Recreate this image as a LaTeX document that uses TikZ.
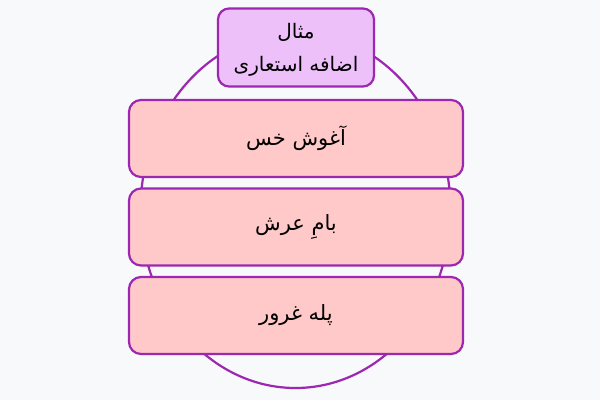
\documentclass[tikz,border=0pt]{standalone}
\usepackage{fontspec}
\newfontfamily\farsi[Script=Arabic]{DejaVu Sans}
\TeXXeTstate=1
\definecolor{bgcol}{HTML}{F8F9FB}
\definecolor{edgecol}{HTML}{9C27B0}
\definecolor{topfill}{HTML}{EEC0FA}
\definecolor{itemfill}{HTML}{FFC9C9}

\begin{document}
\begin{tikzpicture}[x=1pt,y=-1pt,
    head_node/.style={draw=edgecol,fill=topfill,line width=2.2pt,rounded corners=11pt,
        minimum width=156pt,minimum height=78pt,align=center,text depth=0pt,
        font=\farsi\fontsize{20}{33}\selectfont},
    item_node/.style={draw=edgecol,fill=itemfill,line width=2.2pt,rounded corners=12pt,
        minimum width=334pt,minimum height=77pt,
        font=\farsi\fontsize{21}{24}\selectfont}]
    \useasboundingbox[fill=bgcol] (0,0) rectangle (600,400);

    \draw[edgecol,line width=2.2pt] (295.5,210) ellipse (155 and 178);

    \node[head_node] (head) at (296,47.5) {\beginR مثال\endR\\\beginR اضافه استعاری\endR};

    \node[item_node] (1) at (296,138.5) {\beginR آغوش خس\endR};
    \node[item_node] (2) at (296,227)   {\beginR بامِ عرش\endR};
    \node[item_node] (3) at (296,315.5) {\beginR پله غرور\endR};

\end{tikzpicture}
\end{document}
